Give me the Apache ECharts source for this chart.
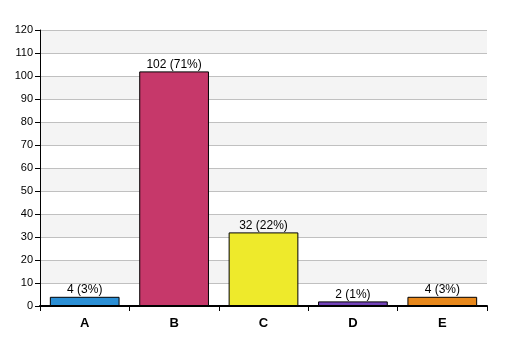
<!DOCTYPE html>
<html><head><meta charset="utf-8">
<script src="https://cdn.jsdelivr.net/npm/echarts@6/dist/echarts.min.js"></script>
<style>html,body{margin:0;padding:0;background:#fff}#c{width:507px;height:356px}</style>
</head><body><div id="c"></div>
<script>
var categories = ['A','B','C','D','E'];
var values = [4,102,32,2,4];
var percents = ['3%','71%','22%','1%','3%'];
var colors = ['#2b8fd5','#c6386a','#eeea2b','#7343b9','#e8881b'];
var yTicks = [0,10,20,30,40,50,60,70,80,90,100,110,120];

var chart = echarts.init(document.getElementById('c'), null, {renderer:'canvas'});
chart.setOption({
  animation:false,
  backgroundColor:'#ffffff',
  grid:{left:40,right:20,top:30,bottom:50,containLabel:false},
  xAxis:{
    type:'category', data:categories, boundaryGap:true,
    axisLine:{show:true,lineStyle:{color:'#000',width:2}},
    axisTick:{show:true,interval:0,length:5,lineStyle:{color:'#000',width:1}},
    axisLabel:{color:'#000',fontFamily:'Liberation Sans, Arial',fontWeight:'bold',fontSize:13,margin:11}
  },
  yAxis:{
    type:'value', min:yTicks[0], max:yTicks[yTicks.length-1], interval:10,
    axisLine:{show:true,lineStyle:{color:'#000',width:1}},
    axisTick:{show:true,length:5,lineStyle:{color:'#000'}},
    axisLabel:{color:'#000',fontFamily:'Liberation Sans, Arial',fontSize:11,margin:7},
    splitLine:{show:true,lineStyle:{color:'#c0c0c0',width:1}},
    splitArea:{show:true,areaStyle:{color:['#ffffff','#f4f4f4']}}
  },
  series:[{
    type:'bar',
    data:values.map(function(v,i){return {value:v,itemStyle:{color:colors[i]}};}),
    barCategoryGap:'22%',
    itemStyle:{borderColor:'#000',borderWidth:1},
    label:{show:true,position:'top',distance:1,color:'#000',fontFamily:'Liberation Sans, Arial',fontSize:12,
      formatter:function(p){return values[p.dataIndex]+' ('+percents[p.dataIndex]+')';}}
  }]
});
</script></body></html>
